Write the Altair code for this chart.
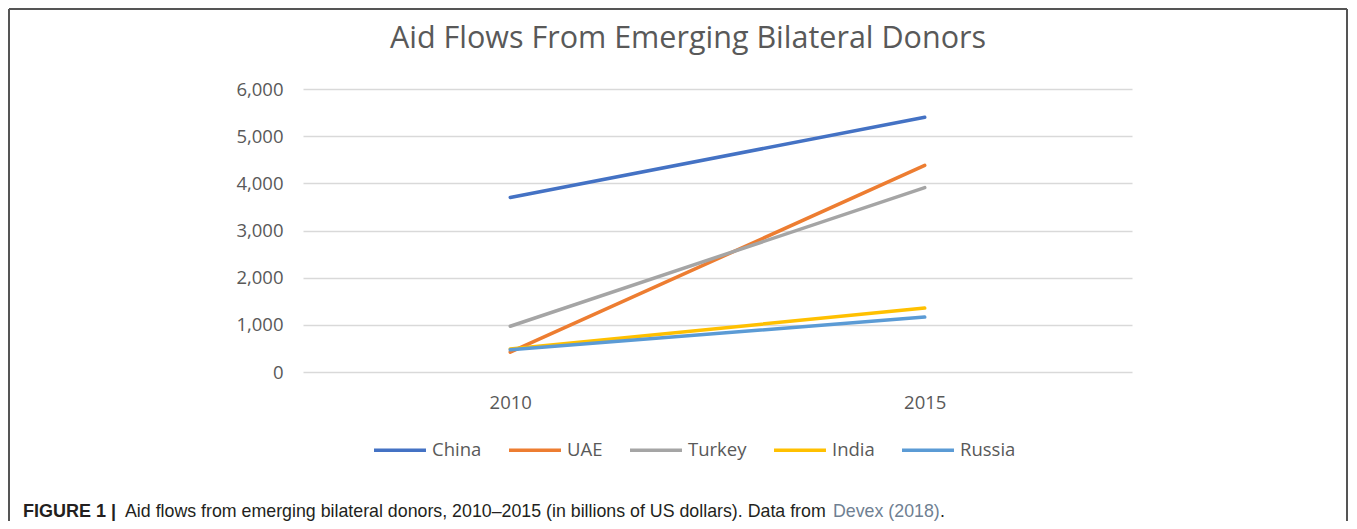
import altair as alt
import pandas as pd

# ---- data ----
years = ["2010", "2015"]
donors = ["China", "UAE", "Turkey", "India", "Russia"]
china = [3700, 5400]
uae = [420, 4380]
turkey = [970, 3910]
india = [490, 1355]
russia = [470, 1165]
colors = ["#4472C4", "#ED7D31", "#A5A5A5", "#FFC000", "#5B9BD5"]
y_ticks = [0, 1000, 2000, 3000, 4000, 5000, 6000]

title_text = "Aid Flows From Emerging Bilateral Donors"
cap_bold = "FIGURE 1 |"
cap_main = "Aid flows from emerging bilateral donors, 2010\u20132015 (in billions of US dollars). Data from"
cap_link = "Devex (2018)"
cap_end = "."

rows = []
for name, vals in zip(donors, [china, uae, turkey, india, russia]):
    for yr, v in zip(years, vals):
        rows.append({"Year": yr, "Donor": name, "Value": v, "ord": donors.index(name)})
df = pd.DataFrame(rows)

FONT = "Open Sans"
GREY = "#595959"
W, H = 829, 283
LAB = 18.5

lines = alt.Chart(df).mark_line(strokeWidth=3.5, strokeCap="round").encode(
    x=alt.X("Year:N", scale=alt.Scale(type="point", padding=0.5),
            axis=alt.Axis(title=None, labelAngle=0, domain=False, ticks=False, grid=False,
                          labelFont=FONT, labelFontSize=LAB, labelColor=GREY, labelPadding=21)),
    y=alt.Y("Value:Q", scale=alt.Scale(domain=[0, 6000], nice=False),
            axis=alt.Axis(title=None, values=y_ticks, format=",.0f", domain=False, ticks=False,
                          grid=True, gridColor="#d9d9d9", gridWidth=1.5,
                          labelFont=FONT, labelFontSize=LAB, labelColor=GREY, labelPadding=20)),
    color=alt.Color("Donor:N", sort=donors,
                    scale=alt.Scale(domain=donors, range=colors),
                    legend=alt.Legend(title=None, orient="none", direction="horizontal",
                                      legendX=69, legendY=333, padding=0,
                                      symbolType="stroke", symbolSize=2700, symbolStrokeWidth=3.5,
                                      labelFont=FONT, labelFontSize=LAB, labelColor=GREY,
                                      labelOffset=4, columnPadding=20)),
    order=alt.Order("ord:Q"),
)

one = pd.DataFrame({"k": [0]})

# decorative frame (top, left, right)
frame = alt.Chart(one).mark_rule(color="#555555", strokeWidth=2)
top = frame.encode(x=alt.value(-294), x2=alt.value(1044), y=alt.value(-80))
left = frame.encode(x=alt.value(-294), y=alt.value(-80), y2=alt.value(432))
right = frame.encode(x=alt.value(1044), y=alt.value(-80), y2=alt.value(432))

# chart title
title = alt.Chart(one).mark_text(text=title_text, font=FONT, fontSize=30.5, color=GREY,
                                 align="center", baseline="middle").encode(
    x=alt.value(385), y=alt.value(-50))

# caption
cap_y = 428
t_bold = alt.Chart(one).mark_text(text=cap_bold, font="Liberation Sans", fontWeight="bold",
                                  fontSize=18, color="#231f20", align="left",
                                  baseline="alphabetic").encode(
    x=alt.value(-280), y=alt.value(cap_y))
t_main = alt.Chart(one).mark_text(text=cap_main, font="Liberation Sans",
                                  fontSize=17.8, color="#231f20", align="left",
                                  baseline="alphabetic").encode(
    x=alt.value(-178), y=alt.value(cap_y))
t_link = alt.Chart(one).mark_text(text=cap_link, font="Liberation Sans",
                                  fontSize=17.8, color="#6f7f92", align="left",
                                  baseline="alphabetic").encode(
    x=alt.value(530), y=alt.value(cap_y))
t_end = alt.Chart(one).mark_text(text=cap_end, font="Liberation Sans",
                                 fontSize=17.8, color="#231f20", align="left",
                                 baseline="alphabetic").encode(
    x=alt.value(637), y=alt.value(cap_y))

chart = alt.layer(lines, top, left, right, title, t_bold, t_main, t_link, t_end).properties(
    width=W, height=H,
    background="white",
    autosize=alt.AutoSizeParams(type="none"),
    padding={"left": 295, "top": 81, "right": 217, "bottom": 149},
).configure_view(stroke=None, strokeWidth=0)

chart.save("out.html", embed_options={"renderer": "svg", "actions": False})
